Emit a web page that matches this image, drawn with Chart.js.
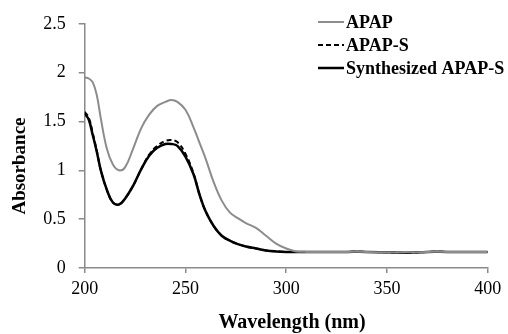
<!DOCTYPE html>
<html><head><meta charset="utf-8">
<script src="https://cdn.jsdelivr.net/npm/chart.js@4.4.0/dist/chart.umd.min.js"></script>
<style>html,body{margin:0;padding:0;background:#fff}#wrap{width:508px;height:334px}</style>
</head><body><div id="wrap"><canvas id="c"></canvas></div>
<script>
const wavelengths = [200,202,204,206,208,211,214,217,220,224,228,232,236,240,243,246,250,254,257,260,264,268,272,276,280,285,290,295,300,305,310,320,330,340,350,360,370,380,390,400];
const apap = [1.95,1.94,1.90,1.77,1.53,1.22,1.06,1.00,1.03,1.22,1.43,1.57,1.66,1.70,1.72,1.70,1.62,1.44,1.28,1.12,0.88,0.69,0.57,0.51,0.46,0.41,0.33,0.25,0.20,0.17,0.165,0.165,0.165,0.165,0.16,0.16,0.165,0.165,0.165,0.165];
const apapS = [1.60,1.54,1.38,1.20,1.00,0.80,0.67,0.65,0.71,0.84,1.01,1.16,1.25,1.30,1.31,1.29,1.17,0.97,0.75,0.58,0.43,0.33,0.28,0.245,0.22,0.20,0.18,0.17,0.165,0.165,0.165,0.165,0.165,0.165,0.16,0.155,0.165,0.165,0.165,0.165];
const synth = [1.58,1.52,1.36,1.19,1.00,0.80,0.67,0.65,0.71,0.84,1.01,1.15,1.23,1.27,1.27,1.25,1.14,0.96,0.75,0.58,0.43,0.33,0.28,0.245,0.22,0.20,0.18,0.17,0.165,0.165,0.165,0.165,0.165,0.165,0.16,0.155,0.165,0.165,0.165,0.165];
const xTicks = [200,250,300,350,400];
const yTicks = [0,0.5,1,1.5,2,2.5];
const seriesNames = ['APAP','APAP-S','Synthesized APAP-S'];
const xTitle = 'Wavelength (nm)';
const yTitle = 'Absorbance';

const pts = arr => wavelengths.map((w,i)=>({x:w,y:arr[i]}));
const serif = '"Liberation Serif", "Times New Roman", serif';
const axisColor = '#8a8a8a';

const textPlugin = {
  id:'customText',
  afterDraw(chart){
    const ctx = chart.ctx;
    const rows = [22,45,68];
    ctx.save();
    chart.data.datasets.forEach((ds,i)=>{
      const y = rows[i];
      ctx.beginPath();
      ctx.strokeStyle = ds.borderColor;
      ctx.lineWidth = ds.borderWidth;
      ctx.setLineDash(ds.borderDash || []);
      ctx.moveTo(318,y); ctx.lineTo(344,y);
      ctx.stroke();
      ctx.setLineDash([]);
      ctx.fillStyle = '#000';
      ctx.font = 'bold 18px ' + serif;
      ctx.textBaseline = 'middle';
      ctx.textAlign = 'left';
      ctx.fillText(ds.label, 346, y+1);
    });
    ctx.font = 'bold 20px ' + serif;
    ctx.textAlign = 'center';
    ctx.textBaseline = 'middle';
    ctx.fillText(xTitle, 292, 323);
    ctx.translate(20, 166);
    ctx.rotate(-Math.PI/2);
    ctx.font = 'bold 19px ' + serif;
    ctx.fillText(yTitle, 0, 0);
    ctx.restore();
  }
};

new Chart(document.getElementById('c'), {
  type:'line',
  data:{datasets:[
    {label:seriesNames[0], data:pts(apap), borderColor:'#8c8c8c', borderWidth:2, pointRadius:0, tension:0.4, fill:false},
    {label:seriesNames[1], data:pts(apapS), borderColor:'#000', borderWidth:2, borderDash:[5,3], pointRadius:0, tension:0.4, fill:false},
    {label:seriesNames[2], data:pts(synth), borderColor:'#000', borderWidth:2.5, pointRadius:0, tension:0.4, fill:false}
  ]},
  options:{
    responsive:true, maintainAspectRatio:false, animation:false,
    layout:{padding:{top:20.7, right:20.3, left:0, bottom:0}},
    plugins:{legend:{display:false}, tooltip:{enabled:false}},
    scales:{
      x:{type:'linear', min:200, max:400,
        afterBuildTicks(s){ s.ticks = xTicks.map(v=>({value:v})); },
        afterFit(s){ s.height = 66; },
        border:{display:true, color:axisColor, width:1.5},
        grid:{display:true, drawOnChartArea:false, drawTicks:true, tickLength:5, color:axisColor, lineWidth:1.5},
        ticks:{font:{family:serif, size:18}, color:'#000', padding:5, maxRotation:0, callback:v=>String(v)}
      },
      y:{type:'linear', min:0, max:2.5,
        afterBuildTicks(s){ s.ticks = yTicks.map(v=>({value:v})); },
        afterFit(s){ s.width = 84.7; },
        border:{display:true, color:axisColor, width:1.5},
        grid:{display:true, drawOnChartArea:false, drawTicks:true, tickLength:6, color:axisColor, lineWidth:1.5},
        ticks:{font:{family:serif, size:18}, color:'#000', padding:13, callback:v=>String(v)}
      }
    }
  },
  plugins:[textPlugin]
});
</script></body></html>
